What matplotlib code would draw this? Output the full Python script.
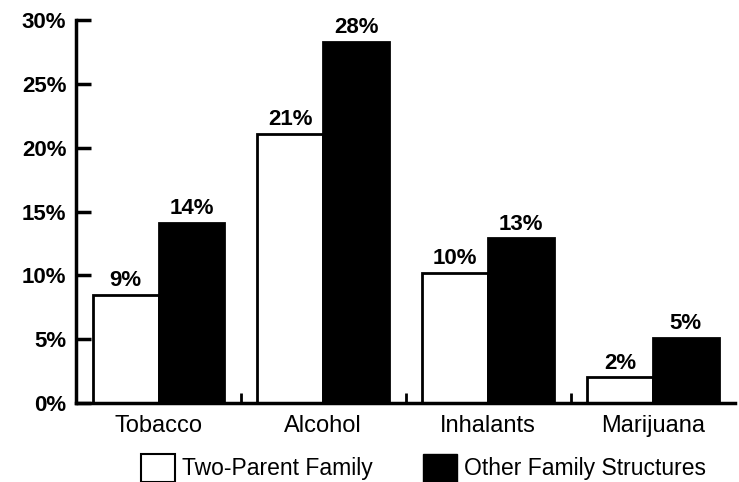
import numpy as np
import matplotlib.pyplot as plt
from matplotlib.patches import Patch

plt.rcParams['font.family'] = ['Liberation Sans', 'DejaVu Sans']

categories = ['Tobacco', 'Alcohol', 'Inhalants', 'Marijuana']
two_parent = [8.5, 21.1, 10.2, 2.0]
other_family = [14.1, 28.3, 12.9, 5.1]
two_parent_labels = ['9%', '21%', '10%', '2%']
other_family_labels = ['14%', '28%', '13%', '5%']

x = np.arange(len(categories))
w = 0.4

fig = plt.figure(figsize=(7.39, 4.82), dpi=100)
ax = fig.add_axes([0.103, 0.164, 0.892, 0.794])

b1 = ax.bar(x - w / 2, two_parent, w, color='white', edgecolor='black',
            linewidth=2)
b2 = ax.bar(x + w / 2, other_family, w, color='black', edgecolor='black',
            linewidth=2)

for rect, lab in zip(b1, two_parent_labels):
    ax.text(rect.get_x() + rect.get_width() / 2, rect.get_height() + 0.3, lab,
            ha='center', va='bottom', fontsize=16, fontweight='bold')
for rect, lab in zip(b2, other_family_labels):
    ax.text(rect.get_x() + rect.get_width() / 2, rect.get_height() + 0.3, lab,
            ha='center', va='bottom', fontsize=16, fontweight='bold')

ax.set_xlim(-0.5, 3.5)
ax.set_ylim(0, 30)
ax.set_yticks(range(0, 31, 5))
ax.set_yticklabels([f'{v}%' for v in range(0, 31, 5)], fontsize=16, fontweight='bold')
ax.tick_params(axis='y', direction='in', length=11, width=2.5, pad=7)

ax.set_xticks(x)
ax.set_xticklabels(categories, fontsize=17)
ax.set_xticks([0.5, 1.5, 2.5], minor=True)
ax.tick_params(axis='x', which='major', length=0, pad=9)
ax.tick_params(axis='x', which='minor', direction='in', length=7, width=2)

for s in ['top', 'right']:
    ax.spines[s].set_visible(False)
for s in ['left', 'bottom']:
    ax.spines[s].set_linewidth(2.5)

handles = [Patch(facecolor='white', edgecolor='black', linewidth=1.5),
           Patch(facecolor='black', edgecolor='black')]
fig.legend(handles, ['Two-Parent Family', 'Other Family Structures'],
           loc='center', bbox_to_anchor=(0.573, 0.03), ncol=2, frameon=False,
           fontsize=16.5, handlelength=1.5, handleheight=1.5, columnspacing=2.2,
           handletextpad=0.3)

fig.savefig('out.png', dpi=100)
